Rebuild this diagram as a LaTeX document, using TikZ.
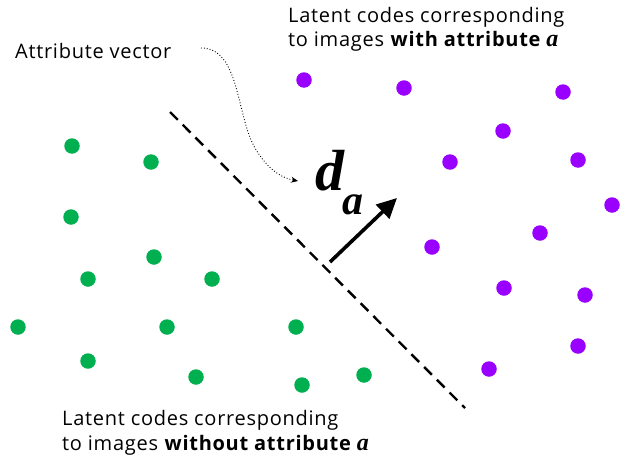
\documentclass[tikz,border=0pt]{standalone}
\usepackage{fontspec}
\setmainfont{Open Sans}[LetterSpace=3.6]
\newfontfamily\serifbi{Liberation Serif}
\usetikzlibrary{arrows.meta}
\definecolor{gdot}{RGB}{0,176,80}
\definecolor{pdot}{RGB}{153,0,255}
\begin{document}
\begin{tikzpicture}[x=1pt,y=-1pt,
  gpt/.style={circle,fill=gdot,inner sep=0pt,minimum size=15.5pt},
  ppt/.style={circle,fill=pdot,inner sep=0pt,minimum size=15.5pt},
  lbl/.style={anchor=base west,inner sep=0pt,font=\fontsize{20}{24}\selectfont},
  boundary/.style={line width=2.4pt,dash pattern=on 11pt off 7pt},
  vec/.style={line width=3.6pt,-{Triangle[length=20pt,width=19pt]}},
  pointer/.style={line width=0.9pt,dotted,-{Stealth[length=7pt,width=6pt]}}]
\useasboundingbox (0,0) rectangle (626,463);
\fill[white] (0,0) rectangle (626,463);
% green dots
\foreach \x/\y [count=\i] in {72/146,151/162,71/217,154/257,88/279,212/279,18/327,167/327,296/327,88/361,196/377,302/385,364/375}
  \node[gpt] (g\i) at (\x,\y) {};
% purple dots
\foreach \x/\y [count=\i] in {304/80,404/88,563/92,503/131,450/162,578/160,612/205,540/233,432/247,504/288,585/295,578/346,489/369}
  \node[ppt] (p\i) at (\x,\y) {};
% boundary
\coordinate (b1) at (170,112);
\coordinate (b2) at (465,408);
\draw[boundary] (b1) -- (b2);
% attribute vector
\coordinate (v1) at (330,262);
\coordinate (v2) at (397,198);
\draw[vec] (v1) -- (v2);
\node[inner sep=0pt,anchor=base] (d) at (330,190) {\serifbi\fontsize{58}{58}\selectfont\bfseries\itshape d};
\node[inner sep=0pt,anchor=base] (da) at (353,214) {\serifbi\fontsize{42}{42}\selectfont\bfseries\itshape a};
% labels
\node[lbl] (attr) at (15,58) {Attribute vector};
\node[lbl] (top1) at (288,22) {Latent codes corresponding};
\node[lbl] (top2) at (288,46) {to images \textbf{with attribute {\serifbi\fontsize{24}{24}\selectfont\itshape a}}};
\node[lbl] (bot1) at (62,425) {Latent codes corresponding};
\node[lbl] (bot2) at (62,450) {to images \textbf{without attribute {\serifbi\fontsize{24}{24}\selectfont\itshape a}}};
% dotted pointer
\coordinate (s) at (201,48);
\coordinate (e) at (298,181);
\draw[pointer] (s) .. controls (240,48) and (236,115) .. (255,148) .. controls (268,170) and (282,178) .. (e);
\end{tikzpicture}
\end{document}
